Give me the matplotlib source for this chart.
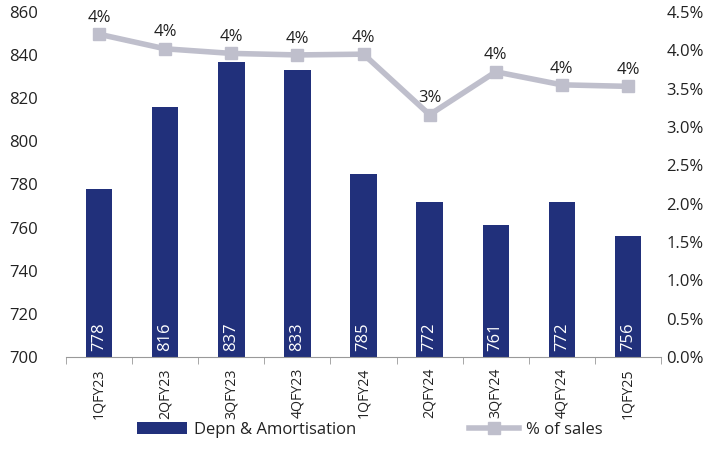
import matplotlib
matplotlib.use("Agg")
import matplotlib.pyplot as plt
import numpy as np

categories = ["1QFY23", "2QFY23", "3QFY23", "4QFY23", "1QFY24", "2QFY24", "3QFY24", "4QFY24", "1QFY25"]
depn = [778, 816, 837, 833, 785, 772, 761, 772, 756]
pct_sales = [4.21, 4.02, 3.96, 3.94, 3.95, 3.16, 3.72, 3.55, 3.53]
pct_labels = ["4%", "4%", "4%", "4%", "4%", "3%", "4%", "4%", "4%"]

plt.rcParams['font.family'] = ['Open Sans', 'DejaVu Sans']
bar_color = "#21307b"
line_color = "#bfbfcc"
text_color = "#222222"

W, H = 723, 470
fig = plt.figure(figsize=(W / 100, H / 100), dpi=100)
ax_l, ax_r = 66 / W, 661 / W
ax_b, ax_t = 1 - 357 / H, 1 - 12 / H
ax = fig.add_axes([ax_l, ax_b, ax_r - ax_l, ax_t - ax_b])
x = np.arange(len(categories))
ax.bar(x, depn, width=0.4, color=bar_color, label="Depn & Amortisation", zorder=2)
ax.set_ylim(700, 860)
ax.set_xlim(-0.5, len(categories) - 0.5)
ax.set_yticks(np.arange(700, 861, 20))
ax.tick_params(axis='y', length=0, labelsize=12, colors=text_color, pad=20)
for s in ["top", "right", "left"]:
    ax.spines[s].set_visible(False)
ax.spines["bottom"].set_color("#999999")
ax.set_xticks(x)
ax.set_xticklabels(categories, rotation=90, fontsize=10.2, color=text_color)
ax.tick_params(axis='x', length=0, pad=8)
ax.set_xticks(np.arange(-0.5, len(categories), 1), minor=True)
ax.tick_params(axis='x', which='minor', length=5, color="#999999")

for xi, v in zip(x, depn):
    ax.text(xi, 703, str(v), rotation=90, ha='center', va='bottom', color='white', fontsize=12, zorder=3)

ax2 = ax.twinx()
ax2.set_ylim(0, 4.5)
ax2.set_yticks(np.arange(0, 4.51, 0.5))
ax2.set_yticklabels([f"{t:.1f}%" for t in np.arange(0, 4.51, 0.5)])
ax2.tick_params(axis='y', length=0, labelsize=12, colors=text_color, pad=4)
for s in ax2.spines.values():
    s.set_visible(False)
ax2.plot(x, pct_sales, color=line_color, lw=4, marker='s', markersize=9, label="% of sales", zorder=3)
for xi, v, l in zip(x, pct_sales, pct_labels):
    ax2.annotate(l, (xi, v), xytext=(0, 6), textcoords='offset points', ha='center', va='bottom', fontsize=12, color=text_color)

h1, l1 = ax.get_legend_handles_labels()
h2, l2 = ax2.get_legend_handles_labels()
fig.legend(h1 + h2, l1 + l2, loc='center', bbox_to_anchor=(370 / W, 1 - 430 / H), ncol=2, frameon=False,
           fontsize=12, columnspacing=6.8, handlelength=3.0, handletextpad=0.4, labelcolor=text_color)

fig.savefig("out.png", dpi=100)
